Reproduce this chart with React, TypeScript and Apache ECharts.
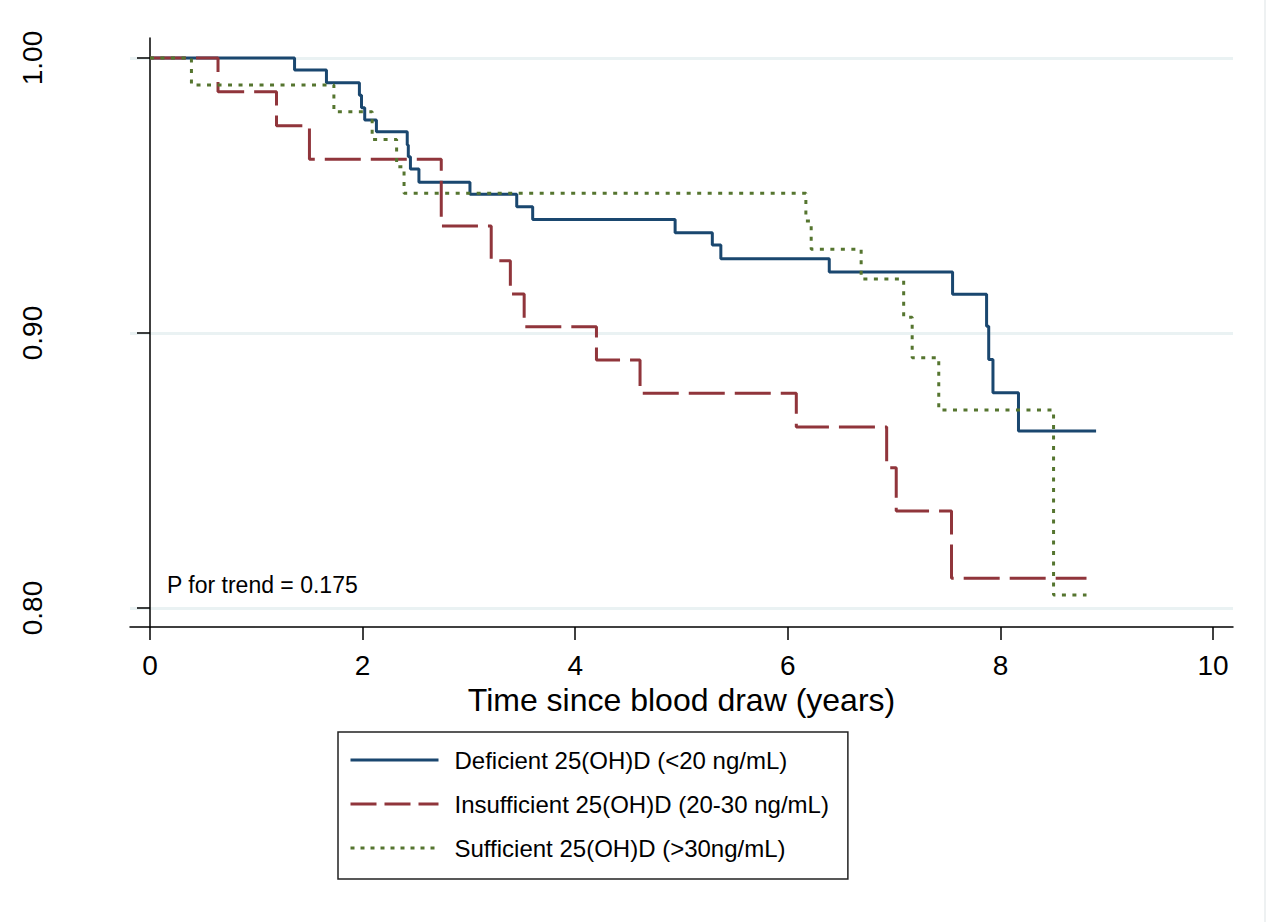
import React, { useEffect, useRef } from "react";
import * as echarts from "echarts";

// ---- Data ----
const xTicks = [0, 2, 4, 6, 8, 10];
const yTicks = [0.8, 0.9, 1.0];

const seriesNames = [
  "Deficient 25(OH)D (<20 ng/mL)",
  "Insufficient 25(OH)D (20-30 ng/mL)",
  "Sufficient 25(OH)D (>30ng/mL)",
];

const deficientTime = [0, 1.36, 1.66, 1.97, 1.99, 2.02, 2.13, 2.42, 2.43, 2.45, 2.53, 3.01, 3.45, 3.6, 4.94, 5.29, 5.37, 6.39, 7.55, 7.87, 7.89, 7.93, 8.17, 8.9];
const deficientSurv = [1.0, 0.9956, 0.991, 0.9865, 0.9819, 0.9775, 0.9732, 0.9684, 0.9641, 0.9596, 0.9548, 0.9505, 0.9459, 0.9413, 0.9365, 0.932, 0.927, 0.9222, 0.9141, 0.9025, 0.8904, 0.8783, 0.8644, 0.8644];

const insufficientTime = [0, 0.64, 1.19, 1.5, 2.74, 3.21, 3.39, 3.52, 4.2, 4.61, 6.08, 6.93, 7.02, 7.54, 8.81];
const insufficientSurv = [1.0, 0.9877, 0.9754, 0.9632, 0.9389, 0.9263, 0.9142, 0.9023, 0.8902, 0.8781, 0.8658, 0.851, 0.8353, 0.8108, 0.8108];

const sufficientTime = [0, 0.39, 1.73, 2.09, 2.32, 2.39, 6.17, 6.22, 6.69, 7.09, 7.17, 7.42, 8.5, 8.81];
const sufficientSurv = [1.0, 0.9902, 0.9805, 0.9704, 0.9605, 0.9508, 0.9407, 0.9305, 0.9196, 0.9057, 0.891, 0.872, 0.8047, 0.8047];

const annotationText = "P for trend = 0.175";
const xAxisTitle = "Time since blood draw (years)";

const FONT = "'Liberation Sans', Arial, Helvetica, sans-serif";

const toPairs = (t: number[], s: number[]) => t.map((v, i) => [v, s[i]]);

export default function App() {
  const ref = useRef<HTMLDivElement | null>(null);

  useEffect(() => {
    if (!ref.current) return;
    const chart = echarts.init(ref.current, null, { renderer: "svg" });

    const colors = ["#1a476f", "#90353b", "#55752f"];
    const dashes: any[] = ["solid", [36, 10], [4, 6.5]];
    const legendDashes: any[] = ["solid", [26, 8], [4, 6]];
    const datasets = [
      toPairs(deficientTime, deficientSurv),
      toPairs(insufficientTime, insufficientSurv),
      toPairs(sufficientTime, sufficientSurv),
    ];

    chart.setOption({
      animation: false,
      backgroundColor: "#ffffff",
      textStyle: { fontFamily: FONT },
      grid: { left: 130, right: 41, top: 38, bottom: 295, containLabel: false },
      xAxis: {
        type: "value",
        min: -0.188,
        max: 10.188,
        name: xAxisTitle,
        nameLocation: "middle",
        nameGap: 47,
        nameTextStyle: { fontSize: 32, color: "#000", fontFamily: FONT },
        axisLine: { show: true, lineStyle: { color: "#000", width: 1.5 } },
        axisTick: { show: true, length: 13, customValues: xTicks, lineStyle: { color: "#000", width: 1.5 } },
        axisLabel: { customValues: xTicks, margin: 24, fontSize: 28, color: "#000", fontFamily: FONT },
        splitLine: { show: false },
      },
      yAxis: {
        type: "value",
        min: 0.793091,
        max: 1.007273,
        axisLine: { show: true, lineStyle: { color: "#000", width: 1.5 } },
        axisTick: { show: true, length: 13, customValues: yTicks, lineStyle: { color: "#000", width: 1.5 } },
        axisLabel: {
          customValues: yTicks,
          rotate: 90,
          margin: 84,
          fontSize: 28,
          color: "#000",
          fontFamily: FONT,
          formatter: (v: number) => v.toFixed(2),
        },
        splitLine: { show: true, lineStyle: { color: "#eaf2f3", width: 3 } },
      },
      legend: {
        show: true,
        orient: "vertical",
        left: 338,
        top: 732,
        selectedMode: false,
        itemWidth: 88,
        itemHeight: 20,
        itemGap: 14,
        padding: [13, 19, 16, 11],
        borderColor: "#222",
        borderWidth: 1.5,
        borderRadius: 0,
        itemStyle: { opacity: 0 },
        textStyle: { fontSize: 24, lineHeight: 30, color: "#000", fontFamily: FONT, padding: [0, 0, 0, 11] },
        data: seriesNames.map((n, i) => ({
          name: n,
          itemStyle: { opacity: 0 },
          lineStyle: { color: colors[i], width: 3, type: legendDashes[i] },
        })),
      },
      graphic: [
        {
          type: "text",
          x: 167,
          y: 585,
          style: { text: annotationText, fontSize: 23, fontFamily: FONT, fill: "#000", verticalAlign: "middle" },
        },
        {
          type: "line",
          shape: { x1: 1265, y1: 0, x2: 1265, y2: 922 },
          style: { stroke: "#eef1f2", lineWidth: 2 },
        },
      ],
      series: seriesNames.map((n, i) => ({
        name: n,
        type: "line",
        step: "end",
        symbol: "none",
        showSymbol: false,
        color: colors[i],
        lineStyle: { color: colors[i], width: 3, type: dashes[i], cap: "butt" },
        data: datasets[i],
        z: 2 + i,
      })),
    });

    return () => chart.dispose();
  }, []);

  return (
    <div
      ref={ref}
      style={{ position: "fixed", left: 0, top: 0, width: 1274, height: 922, background: "#fff" }}
    />
  );
}
